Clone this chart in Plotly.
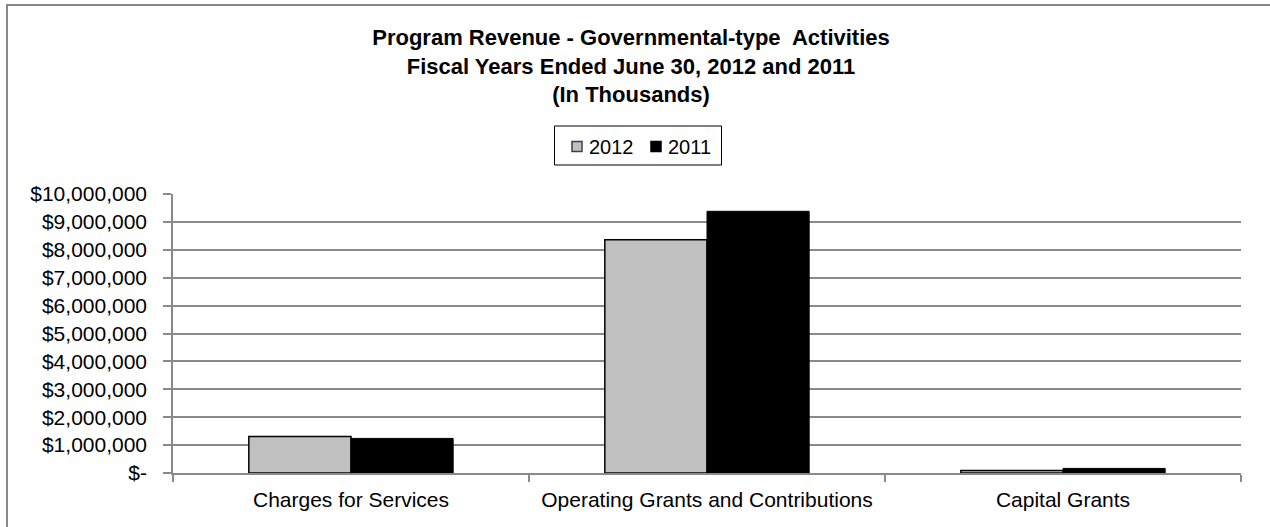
import plotly.graph_objects as go

# Program revenue, governmental-type activities (in thousands of dollars)
categories = ["Charges for Services", "Operating Grants and Contributions", "Capital Grants"]
series_names = ["2012", "2011"]
rev_2012 = [1310000, 8360000, 90000]
rev_2011 = [1240000, 9380000, 165000]

y_tick_vals = [0, 1000000, 2000000, 3000000, 4000000, 5000000,
               6000000, 7000000, 8000000, 9000000, 10000000]
y_tick_text = ["$-", "$1,000,000", "$2,000,000", "$3,000,000", "$4,000,000",
               "$5,000,000", "$6,000,000", "$7,000,000", "$8,000,000",
               "$9,000,000", "$10,000,000"]

W, H = 1270, 527
L, R, T, B = 173, 29, 194, 54
plot_w = W - L - R
plot_h = H - T - B

fill_2012 = "#C0C0C0"
fill_2011 = "#000000"
grid = "#8a8a8a"
font_family = "Arial"

fig = go.Figure()
fig.add_trace(go.Bar(
    name=series_names[0], x=categories, y=rev_2012,
    marker=dict(color=fill_2012, line=dict(color="#000000", width=1.5)),
))
fig.add_trace(go.Bar(
    name=series_names[1], x=categories, y=rev_2011,
    marker=dict(color=fill_2011, line=dict(color="#000000", width=1)),
))


# helpers converting pixel positions on the page to paper coordinates
def px_x(px):
    return (px - L) / plot_w


def px_y(py):
    return (H - B - py) / plot_h


# outer chart frame (runs past the right and bottom edges of the page)
fig.add_shape(type="rect", xref="paper", yref="paper",
              x0=px_x(7), x1=px_x(1290), y0=px_y(5), y1=px_y(560),
              line=dict(color="#888888", width=2), fillcolor="rgba(0,0,0,0)",
              layer="below")

# legend box with swatches and labels
fig.add_shape(type="rect", xref="paper", yref="paper",
              x0=px_x(554.5), x1=px_x(721.5), y0=px_y(165), y1=px_y(126),
              line=dict(color="#000000", width=1), fillcolor="white")
swatches = [(572, 582, fill_2012, "#404040"), (651, 661, fill_2011, "#000000")]
label_x = [587, 666]
for (sx0, sx1, fc, lc), lx, name in zip(swatches, label_x, series_names):
    fig.add_shape(type="rect", xref="paper", yref="paper",
                  x0=px_x(sx0), x1=px_x(sx1), y0=px_y(151.5), y1=px_y(141.5),
                  line=dict(color=lc, width=1.5), fillcolor=fc)
    fig.add_annotation(xref="paper", yref="paper", x=px_x(lx), y=px_y(146.5),
                       text=name, showarrow=False, xanchor="left", yanchor="middle",
                       font=dict(family=font_family, size=20, color="#000000"))

fig.update_layout(
    width=W, height=H,
    margin=dict(l=L, r=R, t=T, b=B, pad=0),
    paper_bgcolor="white", plot_bgcolor="white",
    font=dict(family=font_family, size=21, color="#000000"),
    title=dict(
        text="Program Revenue - Governmental-type  Activities<br>"
             "Fiscal Years Ended June 30, 2012 and 2011<br>(In Thousands)",
        font=dict(family=font_family, size=22, color="#000000", weight="bold"),
        x=631 / W, xref="container", xanchor="center",
        y=1 - 45 / H, yref="container", yanchor="top",
    ),
    barmode="group", bargap=0.426, bargroupgap=0,
    showlegend=False,
    xaxis=dict(
        type="category", tickson="boundaries", ticks="outside",
        ticklen=7, tickcolor=grid, tickwidth=1.5,
        showline=True, linecolor=grid, linewidth=1.5,
        showgrid=False, ticklabelstandoff=7,
        tickfont=dict(size=21, color="#000000"),
    ),
    yaxis=dict(
        range=[0, 10000000], tickvals=y_tick_vals, ticktext=y_tick_text,
        ticks="outside", ticklen=8, tickcolor=grid, tickwidth=1.5,
        showline=True, linecolor=grid, linewidth=1.5,
        showgrid=True, gridcolor=grid, gridwidth=1.5,
        zeroline=False, ticklabelstandoff=12,
        tickfont=dict(size=21, color="#000000"),
    ),
)

fig.write_html("out.html")
